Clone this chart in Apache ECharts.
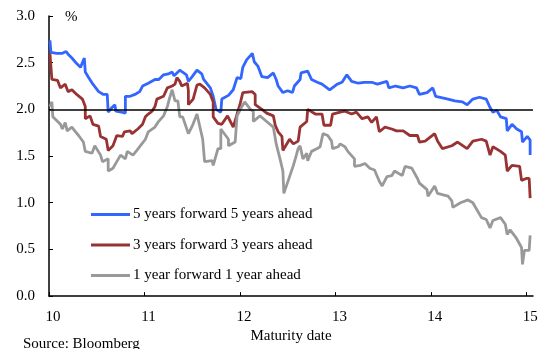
<!DOCTYPE html>
<html>
<head>
<meta charset="utf-8">
<script src="https://cdn.jsdelivr.net/npm/echarts@6/dist/echarts.min.js"></script>
<style>html,body{margin:0;padding:0;background:#fff}#c{width:542px;height:349px}</style>
</head>
<body>
<div id="c"></div>
<script>
// ---- data: [maturity year (20xx short), yield %] ----
const fiveYears = [
[10.01,2.74],[10.02,2.61],[10.08,2.60],[10.14,2.60],[10.18,2.62],[10.20,2.59],[10.24,2.55],[10.29,2.49],[10.33,2.45],[10.37,2.55],
[10.38,2.40],[10.41,2.35],[10.46,2.27],[10.52,2.19],[10.57,2.16],[10.61,2.16],[10.62,1.97],[10.66,2.02],[10.69,2.05],[10.70,1.98],
[10.76,1.97],[10.80,1.96],[10.80,2.14],[10.85,2.14],[10.90,2.16],[10.95,2.19],[10.98,2.25],[11.04,2.28],[11.11,2.32],[11.15,2.32],
[11.20,2.37],[11.25,2.38],[11.29,2.40],[11.31,2.36],[11.37,2.42],[11.44,2.37],[11.46,2.30],[11.50,2.35],[11.55,2.42],[11.60,2.38],
[11.62,2.32],[11.69,2.23],[11.72,2.14],[11.75,2.00],[11.80,1.97],[11.81,2.11],[11.88,2.15],[11.93,2.21],[11.97,2.34],[12.01,2.33],
[12.03,2.45],[12.07,2.53],[12.13,2.60],[12.15,2.51],[12.19,2.46],[12.23,2.35],[12.29,2.34],[12.35,2.39],[12.38,2.32],[12.40,2.25],
[12.45,2.18],[12.50,2.20],[12.55,2.18],[12.57,2.25],[12.63,2.32],[12.64,2.39],[12.71,2.41],[12.75,2.32],[12.81,2.29],[12.86,2.27],
[12.94,2.21],[13.02,2.27],[13.07,2.29],[13.12,2.37],[13.17,2.30],[13.24,2.28],[13.30,2.29],[13.38,2.29],[13.44,2.27],[13.54,2.30],
[13.56,2.23],[13.63,2.25],[13.71,2.23],[13.78,2.25],[13.85,2.23],[13.88,2.16],[13.96,2.18],[14.02,2.23],[14.05,2.14],[14.18,2.11],
[14.25,2.09],[14.33,2.08],[14.38,2.05],[14.44,2.11],[14.51,2.13],[14.58,2.11],[14.62,2.02],[14.65,1.97],[14.69,1.99],[14.73,1.92],
[14.79,1.90],[14.80,1.77],[14.85,1.84],[14.90,1.79],[14.95,1.76],[14.96,1.65],[15.01,1.71],[15.04,1.67],[15.04,1.51]
];
const threeYears = [
[10.01,2.60],[10.03,2.32],[10.09,2.31],[10.12,2.23],[10.17,2.27],[10.20,2.19],[10.24,2.21],[10.29,2.16],[10.35,2.11],[10.38,2.03],
[10.38,1.90],[10.43,1.93],[10.46,1.84],[10.52,1.82],[10.54,1.71],[10.60,1.68],[10.62,1.56],[10.67,1.61],[10.71,1.72],[10.77,1.71],
[10.79,1.76],[10.85,1.77],[10.87,1.74],[10.93,1.79],[10.98,1.84],[11.01,1.92],[11.04,1.95],[11.08,1.98],[11.11,2.03],[11.13,2.11],
[11.20,2.14],[11.24,2.23],[11.29,2.25],[11.32,2.27],[11.34,2.34],[11.37,2.30],[11.39,2.25],[11.45,2.28],[11.46,2.20],[11.46,2.05],
[11.51,2.11],[11.55,2.26],[11.58,2.27],[11.63,2.23],[11.69,2.16],[11.72,2.08],[11.72,1.92],[11.77,1.85],[11.81,1.84],[11.87,1.93],
[11.90,1.87],[11.93,1.81],[11.97,1.95],[12.00,2.05],[12.03,2.18],[12.13,2.19],[12.16,2.16],[12.16,2.05],[12.23,2.00],[12.28,1.96],
[12.35,1.93],[12.37,1.83],[12.40,1.76],[12.44,1.71],[12.45,1.56],[12.52,1.68],[12.56,1.63],[12.61,1.66],[12.63,1.81],[12.70,1.87],
[12.71,2.00],[12.79,1.95],[12.86,1.95],[12.88,1.83],[12.95,1.83],[12.97,1.95],[13.05,1.97],[13.10,1.98],[13.17,1.95],[13.22,1.97],
[13.28,1.90],[13.34,1.92],[13.38,1.86],[13.43,1.92],[13.46,1.76],[13.52,1.81],[13.59,1.79],[13.64,1.77],[13.71,1.77],[13.78,1.72],
[13.86,1.72],[13.88,1.65],[13.94,1.66],[14.04,1.74],[14.07,1.66],[14.12,1.58],[14.22,1.61],[14.28,1.65],[14.38,1.58],[14.44,1.66],
[14.53,1.68],[14.58,1.66],[14.62,1.51],[14.65,1.60],[14.73,1.55],[14.78,1.51],[14.80,1.34],[14.85,1.40],[14.93,1.39],[14.95,1.24],
[15.00,1.26],[15.03,1.26],[15.04,1.05]
];
const oneYear = [
[10.01,2.03],[10.03,2.08],[10.04,1.92],[10.12,1.84],[10.14,1.79],[10.17,1.86],[10.19,1.77],[10.24,1.81],[10.27,1.77],[10.31,1.72],
[10.36,1.65],[10.38,1.55],[10.45,1.53],[10.48,1.61],[10.54,1.51],[10.56,1.44],[10.62,1.47],[10.62,1.34],[10.67,1.37],[10.71,1.44],
[10.75,1.51],[10.80,1.47],[10.82,1.55],[10.88,1.51],[10.92,1.56],[10.95,1.60],[11.01,1.68],[11.04,1.76],[11.11,1.81],[11.14,1.86],
[11.20,1.93],[11.24,2.03],[11.26,2.11],[11.29,2.21],[11.32,2.09],[11.35,2.09],[11.37,1.92],[11.40,1.92],[11.46,1.74],[11.50,1.82],
[11.55,1.95],[11.57,1.86],[11.61,1.68],[11.63,1.44],[11.71,1.45],[11.72,1.40],[11.77,1.58],[11.80,1.58],[11.80,1.79],[11.88,1.68],
[11.88,1.61],[11.95,1.65],[11.97,1.93],[12.02,2.03],[12.05,2.08],[12.11,2.00],[12.14,1.98],[12.14,1.87],[12.21,1.93],[12.28,1.87],
[12.35,1.81],[12.38,1.63],[12.42,1.47],[12.45,1.34],[12.46,1.10],[12.52,1.28],[12.56,1.40],[12.58,1.47],[12.61,1.58],[12.63,1.61],
[12.66,1.47],[12.70,1.53],[12.71,1.45],[12.75,1.55],[12.81,1.58],[12.84,1.60],[12.87,1.74],[12.92,1.72],[12.96,1.66],[12.97,1.58],
[13.03,1.60],[13.05,1.63],[13.10,1.60],[13.13,1.55],[13.20,1.47],[13.20,1.39],[13.26,1.40],[13.31,1.42],[13.36,1.37],[13.41,1.35],
[13.46,1.23],[13.49,1.18],[13.54,1.28],[13.59,1.29],[13.62,1.34],[13.70,1.29],[13.73,1.39],[13.80,1.37],[13.86,1.26],[13.88,1.21],
[13.96,1.14],[13.97,1.07],[14.04,1.18],[14.07,1.10],[14.18,1.07],[14.22,1.02],[14.23,0.95],[14.31,1.00],[14.39,1.03],[14.44,1.00],
[14.53,0.84],[14.58,0.82],[14.62,0.73],[14.65,0.81],[14.73,0.84],[14.78,0.77],[14.80,0.66],[14.83,0.71],[14.89,0.63],[14.95,0.52],
[14.96,0.34],[14.98,0.49],[15.03,0.49],[15.04,0.65]
];
const seriesNames = ['5 years forward 5 years ahead', '3 years forward 3 years ahead', '1 year forward 1 year ahead'];
const xTicks = [10, 11, 12, 13, 14, 15];
const yTicks = [0, 0.5, 1, 1.5, 2, 2.5, 3];
const referenceLevel = 2.0;

const FONT = '"Liberation Serif", "Times New Roman", serif';
const colors = ['#3366ff', '#993333', '#999999'];

const chart = echarts.init(document.getElementById('c'));
chart.setOption({
  animation: false,
  backgroundColor: '#fff',
  grid: { left: 49, top: 16, width: 484, height: 284, containLabel: false },
  xAxis: {
    type: 'value', min: 10, max: 15.07,
    name: 'Maturity date', nameLocation: 'middle', nameGap: 29,
    nameTextStyle: { fontFamily: FONT, fontSize: 15, color: '#000' },
    axisLine: { lineStyle: { color: '#000', width: 1.5 } },
    axisTick: { inside: true, length: 4, customValues: xTicks, lineStyle: { color: '#000', width: 1 } },
    axisLabel: { customValues: xTicks, fontFamily: FONT, fontSize: 15, color: '#000', margin: 13, padding: [0, 0, 0, 8] },
    splitLine: { show: false }
  },
  yAxis: {
    type: 'value', min: 0, max: 3, interval: 0.5,
    axisLine: { show: true, lineStyle: { color: '#000', width: 1.5 } },
    axisTick: { show: true, inside: true, length: 4, customValues: yTicks, lineStyle: { color: '#000', width: 1 } },
    axisLabel: { customValues: yTicks, fontFamily: FONT, fontSize: 15, color: '#000', margin: 14,
      formatter: v => v.toFixed(1) },
    splitLine: { show: false }
  },
  legend: {
    orient: 'vertical', left: 86, top: 202, itemWidth: 39, itemHeight: 3, itemGap: 15.5,
    icon: 'rect',
    textStyle: { fontFamily: FONT, fontSize: 15, color: '#000', padding: [0, 0, 0, -2] },
    data: seriesNames
  },
  graphic: [
    { type: 'text', left: 65, top: 10, style: { text: '%', font: '15px ' + FONT, fill: '#000' } },
    { type: 'text', left: 23, top: 337, style: { text: 'Source: Bloomberg', font: '15px ' + FONT, fill: '#000' } }
  ],
  series: [
    { name: seriesNames[0], type: 'line', data: fiveYears, showSymbol: false, color: colors[0],
      lineStyle: { width: 2.8, color: colors[0] }, z: 3,
      markLine: { silent: true, symbol: 'none', label: { show: false },
        lineStyle: { color: '#000', width: 1.5, type: 'solid' }, data: [{ yAxis: referenceLevel }] } },
    { name: seriesNames[1], type: 'line', data: threeYears, showSymbol: false, color: colors[1],
      lineStyle: { width: 2.8, color: colors[1] }, z: 3 },
    { name: seriesNames[2], type: 'line', data: oneYear, showSymbol: false, color: colors[2],
      lineStyle: { width: 2.8, color: colors[2] }, z: 3 }
  ]
});
</script>
</body>
</html>
